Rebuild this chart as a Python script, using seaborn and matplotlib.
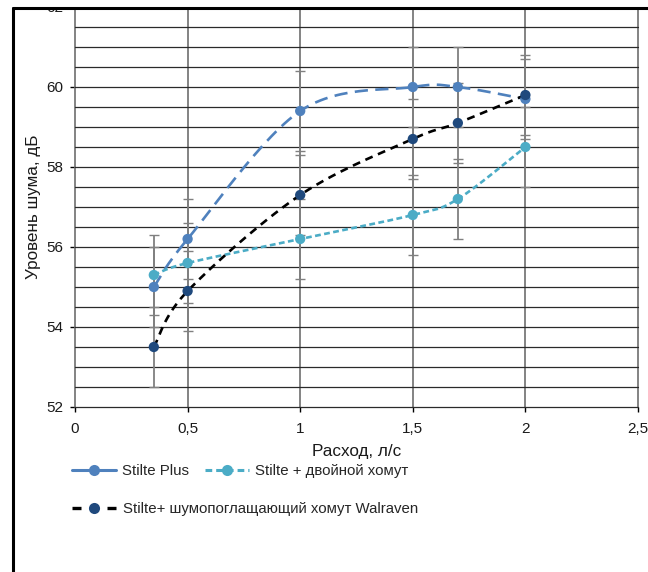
import numpy as np
import pandas as pd
import matplotlib
matplotlib.use("Agg")
import matplotlib.pyplot as plt
from matplotlib.lines import Line2D
from matplotlib.patches import Rectangle
import seaborn as sns

# ---- data ----
flow = [0.35, 0.5, 1.0, 1.5, 1.7, 2.0]
stilte_plus = [55.0, 56.2, 59.4, 60.0, 60.0, 59.7]
stilte_double = [55.3, 55.6, 56.2, 56.8, 57.2, 58.5]
stilte_walraven = [53.5, 54.9, 57.3, 58.7, 59.1, 59.8]
err_plus = [1.0, 1.0, 1.0, 1.0, 1.0, 1.0]
err_double = [1.0, 1.0, 1.0, 1.0, 1.0, 1.0]
err_walraven = [1.0, 1.0, 1.0, 1.0, 1.0, 1.0]
names = ["Stilte Plus", "Stilte + двойной хомут", "Stilte+ шумопоглащающий хомут Walraven"]
x_ticks = [0, 0.5, 1, 1.5, 2, 2.5]
x_ticklabels = ["0", "0,5", "1", "1,5", "2", "2,5"]
y_ticks = [52, 54, 56, 58, 60, 62]

sns.set_theme(style="white")
plt.rcParams["font.family"] = ["Liberation Sans", "DejaVu Sans"]

W, H = 648, 572
fig = plt.figure(figsize=(W / 100, H / 100), dpi=100)
ax = fig.add_axes([75 / W, (H - 407) / H, (638 - 75) / W, 400 / H])

# grid
for xv in np.arange(0, 2.51, 0.5):
    ax.axvline(xv, color="#6e6e6e", lw=1.2, zorder=1, clip_on=False)
for yv in np.arange(52, 62.01, 0.5):
    ax.axhline(yv, color="#2a2a2a", lw=0.9, zorder=1, clip_on=False)


def smooth(xs, ys, n=30):
    P = np.column_stack([xs, ys]).astype(float)
    out = [P[0]]
    m = len(P)
    for i in range(m - 1):
        p0 = P[i - 1] if i > 0 else P[i]
        p1 = P[i]
        p2 = P[i + 1]
        p3 = P[i + 2] if i + 2 < m else P[i + 1]
        c1 = p1 + (p2 - p0) / 6.0
        c2 = p2 - (p3 - p1) / 6.0
        t = np.linspace(0, 1, n)[1:, None]
        seg = ((1 - t) ** 3) * p1 + 3 * ((1 - t) ** 2) * t * c1 + 3 * (1 - t) * t ** 2 * c2 + t ** 3 * p2
        out.extend(seg)
    out = np.array(out)
    return out[:, 0], out[:, 1]


series = [
    (stilte_plus, err_plus, "#4f81bd", "#4f81bd", (0, (5.0, 2.8))),
    (stilte_double, err_double, "#4bacc6", "#4bacc6", (0, (2.2, 1.3))),
    (stilte_walraven, err_walraven, "black", "#1f497d", (0, (3.0, 2.2))),
]

# error bars
for ys, es, lc, mc, ls in series:
    ax.errorbar(flow, ys, yerr=es, fmt="none", ecolor="#808080", elinewidth=1.3,
                capsize=3.5, capthick=1.0, zorder=2)

rows = []
for name, (ys, es, lc, mc, ls) in zip(names, series):
    sx, sy = smooth(flow, ys)
    ax.plot(sx, sy, color=lc, lw=1.9, linestyle=ls, zorder=3)
    for xv, yv in zip(flow, ys):
        rows.append({"x": xv, "y": yv, "s": name})
df = pd.DataFrame(rows)
for name, (ys, es, lc, mc, ls) in zip(names, series):
    sns.scatterplot(data=df[df["s"] == name], x="x", y="y", color=mc, s=55,
                    edgecolor="none", ax=ax, zorder=4, legend=False)

ax.set_xlim(0, 2.5)
ax.set_ylim(52, 62)
ax.set_xticks(x_ticks)
ax.set_xticklabels(x_ticklabels)
ax.set_yticks(y_ticks)
ax.tick_params(axis="both", direction="out", length=3.5, width=1, color="black",
               labelsize=11, labelcolor="#1a1a1a", bottom=True, left=True)
ax.tick_params(axis="y", pad=5)
ax.tick_params(axis="x", pad=7)
for s in ax.spines.values():
    s.set_visible(False)
ax.set_xlabel("Расход, л/с", fontsize=12.3, color="#1a1a1a", labelpad=6)
ax.set_ylabel("Уровень шума, дБ", fontsize=12.3, color="#1a1a1a", labelpad=4)

# legend
h1 = Line2D([], [], color="#4f81bd", lw=2.2, marker="o", markersize=8, markeredgecolor="none")
h2 = Line2D([], [], color="#4bacc6", lw=2.2, linestyle=(0, (2.2, 1.3)), marker="o",
            markersize=8, markeredgecolor="none")
h3 = Line2D([], [], color="black", lw=2.4, linestyle=(0, (2.7, 7.8)), marker="o",
            markerfacecolor="#1f497d", markersize=8, markeredgecolor="none")
fig.legend([h1, h2], names[:2], loc="center left",
           bbox_to_anchor=(58 / W, 1 - 471 / H), ncol=2, frameon=False,
           fontsize=10.8, handlelength=2.95, columnspacing=1.05, handletextpad=0.4)
fig.legend([h3], names[2:], loc="center left",
           bbox_to_anchor=(58 / W, 1 - 509 / H), frameon=False,
           fontsize=10.8, handlelength=2.95, handletextpad=0.5)

# outer frame (cropped chart area)
fig.add_artist(Rectangle((0, 1 - 8 / H), 1, 8 / H, transform=fig.transFigure,
                         facecolor="white", edgecolor="none", zorder=10))
fig.add_artist(Line2D([13 / W, 13 / W], [0, 1 - 8 / H], transform=fig.transFigure,
                      color="black", lw=2.2, zorder=11))
fig.add_artist(Line2D([13 / W, 1], [1 - 8 / H, 1 - 8 / H], transform=fig.transFigure,
                      color="black", lw=2.2, zorder=11))

fig.savefig("out.png", dpi=100)
